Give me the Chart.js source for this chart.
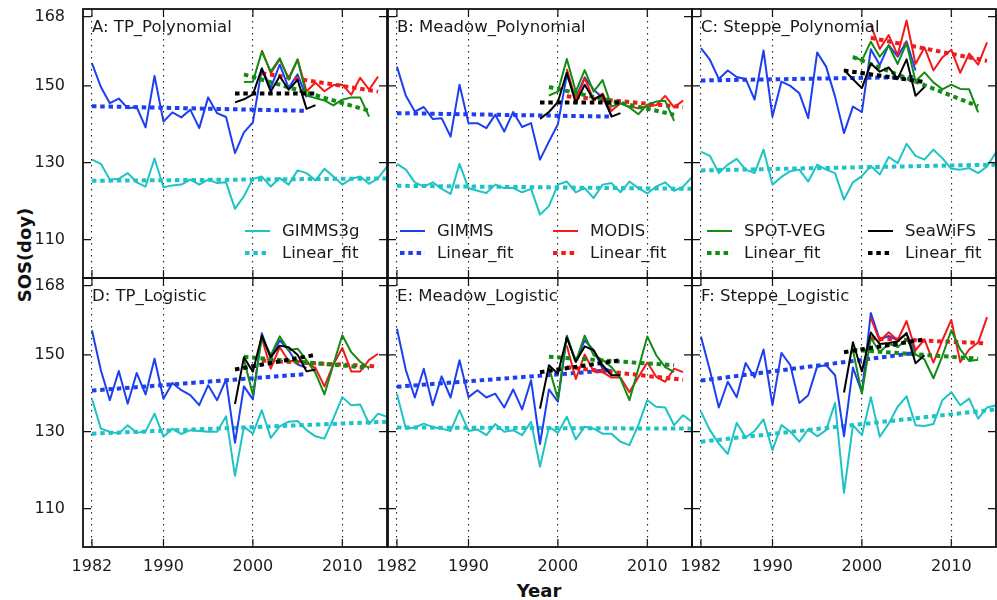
<!DOCTYPE html>
<html>
<head>
<meta charset="utf-8">
<script src="https://cdn.jsdelivr.net/npm/chart.js@4.4.0/dist/chart.umd.min.js"></script>
<style>
  body { margin: 0; background: #fff; }
  #wrap { position: relative; width: 997px; height: 600px; overflow: hidden; background: #fff; }
  #wrap canvas { position: absolute; }
  .axis-title { position: absolute; font: bold 18px "DejaVu Sans", sans-serif; color: #111; white-space: nowrap; transform: translate(-50%, -50%); }
</style>
</head>
<body>
<div id="wrap">
  <div class="axis-title" style="left:539px; top:590px;">Year</div>
  <div class="axis-title" style="left:24px; top:255px; transform: translate(-50%, -50%) rotate(-90deg);">SOS(doy)</div>
</div>
<script>
// 軸設定
const YEAR_MIN = 1981, YEAR_MAX = 2015;
const Y_MIN = 100, Y_MAX = 170;
const X_TICKS = [1982, 1990, 2000, 2010];
const Y_TICKS = [110, 130, 150, 168];

// 各產品第一年
const START_GIMMS3G = 1982;
const START_GIMMS = 1982;
const START_MODIS = 2001;
const START_SPOT = 1999;
const START_SEAWIFS = 1998;

// A: TP_Polynomial
const A_GIMMS3G = [130.8, 129.7, 125.6, 125.8, 127.3, 124.9, 123.8, 131.1, 123.6, 124.1, 124.3, 125.6, 124.3, 125.6, 124.7, 124.9, 118.0, 121.3, 125.8, 126.4, 123.8, 126.0, 124.3, 128.0, 127.3, 125.4, 128.4, 126.4, 124.3, 125.8, 126.4, 124.5, 126.0, 129.0];
const A_GIMMS = [155.9, 149.7, 145.5, 146.7, 144.2, 144.5, 139.2, 152.6, 140.7, 143.1, 141.8, 143.8, 139.0, 147.0, 142.9, 141.9, 132.5, 137.9, 140.5, 154.5, 149.5, 155.5, 149.5, 153.0, 147.0];
const A_MODIS = [159.3, 153.3, 156.9, 152.0, 156.9, 148.6, 150.8, 148.6, 150.2, 150.3, 147.7, 152.1, 149.0, 152.4];
const A_SPOT = [151.0, 151.1, 158.9, 153.7, 157.2, 151.6, 156.8, 147.5, 146.8, 146.2, 144.9, 146.4, 147.0, 147.0, 142.0];
const A_SEAWIFS = [145.7, 146.5, 147.8, 154.5, 148.5, 152.5, 149.0, 151.6, 144.0, 145.0];
const A_FITS = [[125.3, 125.9], [144.7, 143.5], [153.3, 148.5], [153.0, 143.5], [148.0, 148.0]];

// B: Meadow_Polynomial
const B_GIMMS3G = [129.7, 128.2, 124.9, 123.8, 124.9, 123.2, 121.9, 129.7, 123.4, 122.7, 122.1, 124.3, 123.4, 123.4, 122.3, 123.2, 116.5, 118.7, 124.3, 125.1, 122.3, 123.4, 120.8, 124.3, 124.7, 122.3, 125.1, 123.4, 122.0, 123.8, 124.9, 122.7, 123.7, 126.3];
const B_GIMMS = [155.0, 147.4, 143.3, 144.5, 141.4, 141.6, 136.8, 150.3, 140.3, 140.3, 139.0, 142.5, 138.1, 143.2, 139.3, 140.3, 130.8, 135.5, 140.0, 152.8, 147.0, 152.2, 149.0, 147.0, 142.3];
const B_MODIS = [154.4, 146.2, 152.0, 146.4, 148.0, 143.5, 145.5, 144.6, 144.2, 144.6, 145.0, 147.4, 144.4, 146.2];
const B_SPOT = [147.5, 148.5, 157.0, 148.5, 154.1, 148.5, 151.5, 144.6, 145.5, 144.4, 142.6, 145.1, 145.9, 146.1, 140.9];
const B_SEAWIFS = [141.4, 143.2, 145.8, 153.5, 145.5, 150.3, 146.4, 147.7, 142.0, 142.9];
const B_FITS = [[124.0, 123.2], [142.9, 142.0], [147.3, 144.5], [149.7, 142.5], [145.7, 145.7]];

// C: Steppe_Polynomial
const C_GIMMS3G = [132.9, 131.8, 127.3, 129.5, 131.0, 128.2, 127.3, 133.4, 124.3, 126.3, 127.8, 128.2, 125.1, 129.5, 128.2, 127.3, 120.4, 124.9, 126.5, 129.2, 126.9, 131.5, 129.9, 134.9, 131.8, 130.8, 133.4, 131.2, 128.4, 128.2, 128.6, 127.3, 129.0, 132.7];
const C_GIMMS = [159.8, 156.8, 151.8, 154.0, 152.3, 151.8, 146.4, 159.2, 142.0, 151.1, 150.0, 148.1, 141.6, 158.7, 155.0, 147.2, 137.7, 144.6, 143.2, 159.5, 155.4, 160.6, 157.6, 161.6, 154.0];
const C_MODIS = [165.8, 159.6, 163.2, 158.0, 167.0, 155.7, 160.0, 154.0, 157.4, 159.4, 153.4, 158.4, 155.5, 161.3];
const C_SPOT = [157.7, 156.6, 161.5, 157.6, 160.5, 155.7, 161.1, 151.2, 153.5, 150.9, 149.1, 150.3, 149.2, 149.1, 143.1];
const C_SEAWIFS = [154.2, 151.7, 149.4, 155.8, 153.7, 154.8, 151.8, 156.9, 147.4, 149.7];
const C_FITS = [[128.0, 129.5], [151.4, 152.3], [162.5, 156.5], [157.5, 144.7], [154.0, 151.0]];

// D: TP_Logistic
const D_GIMMS3G = [138.6, 130.8, 130.0, 129.5, 131.7, 129.7, 130.1, 134.7, 128.7, 130.8, 129.4, 130.4, 130.2, 130.0, 130.0, 134.0, 118.5, 131.3, 129.5, 135.6, 128.4, 131.4, 132.6, 132.8, 130.4, 128.8, 128.2, 133.4, 139.0, 136.9, 137.1, 132.0, 134.7, 133.9];
const D_GIMMS = [156.4, 146.0, 138.2, 145.8, 137.3, 145.3, 139.7, 149.0, 138.6, 142.7, 140.8, 139.5, 136.9, 142.1, 138.2, 143.6, 127.1, 141.8, 138.4, 155.6, 149.0, 153.8, 151.2, 147.5, 146.6];
const D_MODIS = [154.4, 146.4, 152.0, 148.4, 148.4, 147.9, 146.6, 141.8, 147.5, 151.8, 145.7, 145.7, 148.7, 150.3];
const D_SPOT = [148.8, 139.6, 154.5, 149.9, 154.8, 151.2, 151.6, 148.6, 145.3, 139.7, 147.5, 155.1, 150.7, 148.2, 146.5];
const D_SEAWIFS = [137.2, 149.4, 145.6, 155.0, 149.4, 152.4, 152.0, 150.0, 145.7, 146.2];
const D_FITS = [[129.5, 132.6], [140.7, 145.0], [148.5, 147.0], [149.5, 146.6], [146.2, 150.0]];

// E: Meadow_Logistic
const E_GIMMS3G = [139.9, 130.8, 131.1, 132.1, 131.2, 130.8, 130.2, 135.6, 130.2, 130.6, 129.1, 132.0, 130.0, 130.4, 129.1, 132.6, 120.9, 131.3, 129.7, 133.9, 128.0, 131.3, 130.8, 129.5, 129.5, 127.4, 126.5, 131.7, 138.2, 136.5, 136.3, 131.7, 134.3, 132.6];
const E_GIMMS = [156.8, 146.0, 138.9, 146.4, 136.9, 144.4, 138.9, 148.6, 139.0, 140.8, 138.9, 139.9, 136.3, 141.0, 135.8, 143.4, 126.8, 141.0, 137.8, 154.8, 148.2, 153.8, 151.2, 146.4, 146.0];
const E_MODIS = [152.4, 143.7, 150.1, 145.7, 145.5, 144.1, 144.1, 140.3, 144.2, 148.0, 144.3, 143.0, 146.4, 145.5];
const E_SPOT = [146.8, 138.5, 155.0, 148.2, 155.0, 149.9, 148.7, 146.8, 143.8, 138.2, 146.4, 154.8, 149.9, 146.8, 145.5];
const E_SEAWIFS = [136.0, 147.3, 145.1, 154.5, 148.2, 152.2, 151.2, 147.3, 144.7, 144.7];
const E_FITS = [[131.1, 130.8], [141.7, 146.0], [146.8, 143.5], [149.5, 147.3], [145.5, 148.6]];

// F: Steppe_Logistic
const F_GIMMS3G = [135.2, 130.4, 126.9, 124.2, 132.3, 128.5, 130.2, 133.2, 125.2, 131.7, 130.0, 127.4, 130.6, 128.8, 130.4, 137.5, 114.1, 131.7, 129.1, 139.0, 128.7, 132.1, 136.5, 139.2, 131.7, 131.5, 132.0, 138.2, 140.3, 136.9, 138.6, 133.4, 136.3, 136.9];
const F_GIMMS = [154.8, 146.0, 136.3, 143.0, 139.0, 147.9, 144.1, 151.4, 136.9, 150.5, 147.3, 137.5, 139.5, 147.0, 147.3, 144.7, 128.8, 146.7, 140.2, 160.9, 154.0, 154.9, 153.8, 155.4, 150.8];
const F_MODIS = [159.6, 153.6, 155.9, 153.8, 158.8, 151.2, 154.0, 148.0, 153.8, 159.1, 148.1, 151.4, 153.2, 159.8];
const F_SPOT = [151.2, 139.9, 154.4, 150.7, 152.9, 152.0, 154.2, 150.1, 148.8, 143.9, 149.7, 156.4, 151.4, 148.4, 148.7];
const F_SEAWIFS = [140.2, 153.3, 145.7, 155.8, 152.8, 153.1, 153.5, 155.7, 147.8, 149.9];
const F_FITS = [[127.4, 135.8], [143.3, 150.5], [154.3, 153.0], [151.3, 149.0], [150.7, 154.0]];

// 版面
const COL_LEFT = [83, 388, 692];
const ROW_TOP = [9, 278];
const PANEL_W = 304, PANEL_H = 269;
const PAD_L = 80, PAD_T = 10, PAD_R = 4, PAD_B = 50;

const FONT = '"DejaVu Sans", sans-serif';
const TEXT_COLOR = '#1a1a1a';
const COLORS = ['#1ec3c6', '#1c3ff2', '#f21a1a', '#128c12', '#000000'];
const STARTS = [START_GIMMS3G, START_GIMMS, START_MODIS, START_SPOT, START_SEAWIFS];
const FIT_DASH = [4.5, 3.8];

const PANELS = [
  { title: 'A: TP_Polynomial', col: 0, row: 0, series: [A_GIMMS3G, A_GIMMS, A_MODIS, A_SPOT, A_SEAWIFS], fits: A_FITS,
    legend: [{ ds: 0, text: 'GIMMS3g', x: 162, y: 222 }, { ds: 1, text: 'Linear_fit', x: 162, y: 244 }] },
  { title: 'B: Meadow_Polynomial', col: 1, row: 0, series: [B_GIMMS3G, B_GIMMS, B_MODIS, B_SPOT, B_SEAWIFS], fits: B_FITS,
    legend: [{ ds: 2, text: 'GIMMS', x: 12, y: 222 }, { ds: 3, text: 'Linear_fit', x: 12, y: 244 },
             { ds: 4, text: 'MODIS', x: 165, y: 222 }, { ds: 5, text: 'Linear_fit', x: 165, y: 244 }] },
  { title: 'C: Steppe_Polynomial', col: 2, row: 0, series: [C_GIMMS3G, C_GIMMS, C_MODIS, C_SPOT, C_SEAWIFS], fits: C_FITS,
    legend: [{ ds: 6, text: 'SPOT-VEG', x: 15, y: 222 }, { ds: 7, text: 'Linear_fit', x: 15, y: 244 },
             { ds: 8, text: 'SeaWiFS', x: 176, y: 222 }, { ds: 9, text: 'Linear_fit', x: 176, y: 244 }] },
  { title: 'D: TP_Logistic', col: 0, row: 1, series: [D_GIMMS3G, D_GIMMS, D_MODIS, D_SPOT, D_SEAWIFS], fits: D_FITS, legend: [] },
  { title: 'E: Meadow_Logistic', col: 1, row: 1, series: [E_GIMMS3G, E_GIMMS, E_MODIS, E_SPOT, E_SEAWIFS], fits: E_FITS, legend: [] },
  { title: 'F: Steppe_Logistic', col: 2, row: 1, series: [F_GIMMS3G, F_GIMMS, F_MODIS, F_SPOT, F_SEAWIFS], fits: F_FITS, legend: [] }
];

// 框線、向內刻度、標題、圖例
const panelDeco = {
  id: 'panelDeco',
  afterDraw(chart, args, opts) {
    const { ctx, chartArea: a, scales } = chart;
    ctx.save();
    ctx.strokeStyle = '#111';
    ctx.lineWidth = 1.2;
    ctx.setLineDash([]);
    ctx.beginPath();
    X_TICKS.forEach(v => {
      const x = scales.x.getPixelForValue(v);
      ctx.moveTo(x, a.bottom); ctx.lineTo(x, a.bottom - 8);
      ctx.moveTo(x, a.top); ctx.lineTo(x, a.top + 8);
    });
    Y_TICKS.forEach(v => {
      const y = scales.y.getPixelForValue(v);
      ctx.moveTo(a.left, y); ctx.lineTo(a.left + 8, y);
      ctx.moveTo(a.right, y); ctx.lineTo(a.right - 8, y);
    });
    ctx.stroke();

    ctx.lineWidth = 1.8;
    ctx.strokeRect(a.left, a.top, a.right - a.left, a.bottom - a.top);

    ctx.fillStyle = TEXT_COLOR;
    ctx.font = '16.5px ' + FONT;
    ctx.textBaseline = 'middle';
    ctx.textAlign = 'left';
    ctx.fillText(opts.title, a.left + 9, a.top + 19);

    opts.legend.forEach(item => {
      const ds = chart.data.datasets[item.ds];
      const x = a.left + item.x, y = a.top + item.y;
      ctx.strokeStyle = ds.borderColor;
      ctx.lineWidth = ds.borderWidth;
      ctx.setLineDash(ds.borderDash || []);
      ctx.beginPath();
      ctx.moveTo(x, y); ctx.lineTo(x + 25, y);
      ctx.stroke();
      ctx.fillText(item.text, x + 37, y + 1);
    });
    ctx.restore();
  }
};

function toPoints(start, values) {
  return values.map((v, i) => ({ x: start + i, y: v }));
}

function makeDatasets(p) {
  const sets = [];
  p.series.forEach((values, k) => {
    const start = STARTS[k];
    sets.push({
      data: toPoints(start, values),
      borderColor: COLORS[k], borderWidth: 2, borderJoinStyle: 'round',
      pointRadius: 0, fill: false, order: 10 - 2 * k
    });
    sets.push({
      data: [{ x: start, y: p.fits[k][0] }, { x: start + values.length - 1, y: p.fits[k][1] }],
      borderColor: COLORS[k], borderWidth: 4, borderDash: FIT_DASH, borderCapStyle: 'butt',
      pointRadius: 0, fill: false, order: 9 - 2 * k
    });
  });
  return sets;
}

function buildChart(p) {
  const canvas = document.createElement('canvas');
  canvas.width = PANEL_W + PAD_L + PAD_R;
  canvas.height = PANEL_H + PAD_T + PAD_B;
  canvas.style.left = (COL_LEFT[p.col] - PAD_L) + 'px';
  canvas.style.top = (ROW_TOP[p.row] - PAD_T) + 'px';
  document.getElementById('wrap').appendChild(canvas);

  const tickFont = { family: FONT, size: 16 };
  new Chart(canvas, {
    type: 'line',
    data: { datasets: makeDatasets(p) },
    options: {
      responsive: false,
      animation: false,
      devicePixelRatio: 1,
      layout: { padding: { top: PAD_T, right: PAD_R, left: 0, bottom: 0 } },
      plugins: {
        legend: { display: false },
        tooltip: { enabled: false },
        panelDeco: { title: p.title, legend: p.legend }
      },
      scales: {
        x: {
          type: 'linear', min: YEAR_MIN, max: YEAR_MAX,
          afterBuildTicks: ax => { ax.ticks = X_TICKS.map(v => ({ value: v })); },
          // 固定高度，不讓刻度文字改變繪圖區
          afterFit: ax => { ax.height = PAD_B; ax.paddingLeft = 0; ax.paddingRight = 0; },
          grid: { color: '#222', lineWidth: 1.1, drawTicks: false },
          border: { display: false, dash: [1.5, 4.5] },
          ticks: { display: p.row === 1, padding: 10, maxRotation: 0, autoSkip: false,
                   font: tickFont, color: TEXT_COLOR, callback: v => String(v) }
        },
        y: {
          type: 'linear', min: Y_MIN, max: Y_MAX,
          afterBuildTicks: ax => { ax.ticks = Y_TICKS.map(v => ({ value: v })); },
          afterFit: ax => { ax.width = PAD_L; ax.paddingTop = 0; ax.paddingBottom = 0; },
          grid: { display: false },
          border: { display: false },
          ticks: { display: p.col === 0, padding: 10, autoSkip: false,
                   font: tickFont, color: TEXT_COLOR, callback: v => String(v) }
        }
      }
    },
    plugins: [panelDeco]
  });
}

PANELS.forEach(buildChart);
</script>
</body>
</html>
